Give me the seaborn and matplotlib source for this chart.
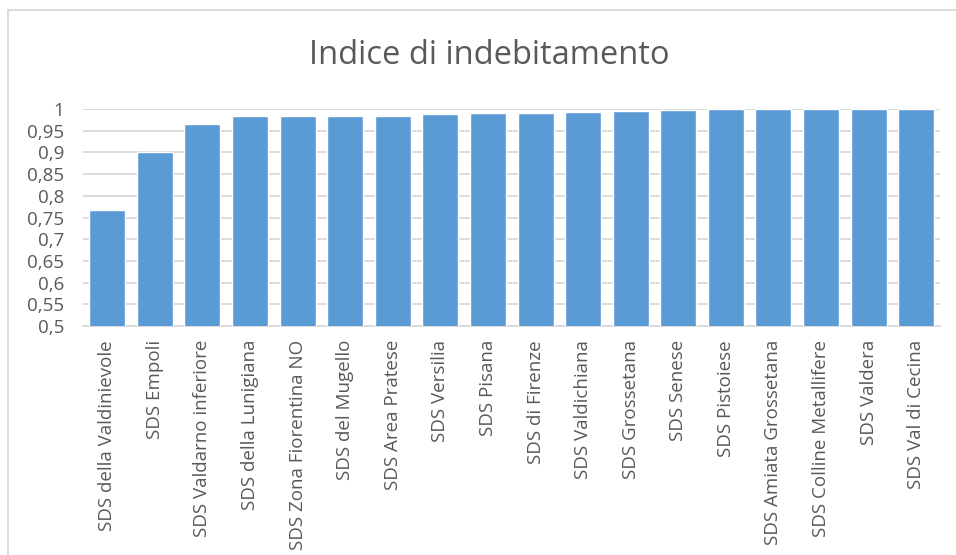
import numpy as np
import pandas as pd
import matplotlib
matplotlib.use("Agg")
import matplotlib.pyplot as plt
from matplotlib.patches import Rectangle
from matplotlib.ticker import FuncFormatter
import seaborn as sns

# dati
zone = [
    "SDS della Valdinievole", "SDS Empoli", "SDS Valdarno inferiore",
    "SDS della Lunigiana", "SDS Zona Fiorentina NO", "SDS del Mugello",
    "SDS Area Pratese", "SDS Versilia", "SDS Pisana", "SDS di Firenze",
    "SDS Valdichiana", "SDS Grossetana", "SDS Senese", "SDS Pistoiese",
    "SDS Amiata Grossetana", "SDS Colline Metallifere", "SDS Valdera",
    "SDS Val di Cecina",
]
indice = [
    0.767, 0.902, 0.966, 0.983, 0.984, 0.985, 0.985, 0.988, 0.990,
    0.991, 0.994, 0.996, 0.998, 0.999, 1.0, 1.0, 1.0, 1.0,
]
y_ticks = [0.5, 0.55, 0.6, 0.65, 0.7, 0.75, 0.8, 0.85, 0.9, 0.95, 1.0]

df = pd.DataFrame({"zona": zone, "indice": indice})

sns.set_theme(style="white")
plt.rcParams["font.family"] = ["Open Sans", "DejaVu Sans"]

testo = "#595959"
griglia = "#D9D9D9"
blu = "#5B9BD5"

fig = plt.figure(figsize=(9.56, 5.55), dpi=100)
ax = fig.add_axes([0.0873, 0.4126, 0.896, 0.391])

sns.barplot(data=df, x="zona", y="indice", color=blu, saturation=1,
            width=0.757, ax=ax, zorder=3)

ax.set_ylim(0.5, 1.0)
ax.set_yticks(y_ticks)
ax.yaxis.set_major_formatter(FuncFormatter(lambda v, p: f"{round(v, 2):g}".replace(".", ",")))
ax.grid(axis="y", color=griglia, linewidth=1.3, zorder=0)
ax.set_axisbelow(True)

for s in ["top", "right", "left"]:
    ax.spines[s].set_visible(False)
ax.spines["bottom"].set_color(griglia)
ax.spines["bottom"].set_linewidth(1.3)

ax.tick_params(axis="y", length=0, pad=14, labelsize=13.5, labelcolor=testo)
ax.tick_params(axis="x", length=0, pad=10, labelsize=13.5, labelcolor=testo, rotation=90)
ax.set_xlabel("")
ax.set_ylabel("")

fig.text(489 / 956, 1 - 55 / 555, "Indice di indebitamento", ha="center", va="center",
         fontsize=23.5, color=testo)

# bordo del grafico (stile Excel)
fig.patches.append(Rectangle((8 / 956, -0.1), 1.2, 1.1 - 10 / 555, transform=fig.transFigure,
                             fill=False, edgecolor=griglia, linewidth=1.3))

plt.savefig("out.png", dpi=100)
